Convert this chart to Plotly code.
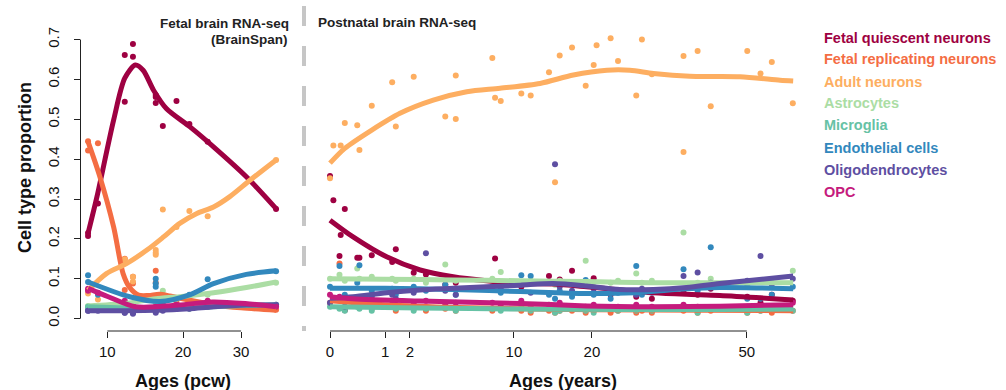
import numpy as np
import plotly.graph_objects as go

CELL_TYPES = ["Fetal quiescent neurons", "Fetal replicating neurons", "Adult neurons",
              "Astrocytes", "Microglia", "Endothelial cells", "Oligodendrocytes", "OPC"]
COLORS = ["#9E0142", "#F46D43", "#FDAE61", "#ABDDA4", "#66C2A5", "#3288BD", "#5E4FA2", "#C51B7D"]

# ---------------- Fetal (BrainSpan) samples, ages in pcw ----------------
FETAL_SAMPLE_PCW = [8, 8, 9, 12, 12, 13, 13, 16, 16, 16, 17, 19, 21, 24, 37]
FQN_FETAL = [0.207, 0.215, 0.289, 0.661, 0.544, 0.689, 0.657, 0.556, 0.541, 0.561, 0.483, 0.546, 0.488, 0.444, 0.275]
FRN_FETAL = [0.445, 0.422, 0.44, 0.15, 0.072, 0.105, 0.088, 0.12, 0.09, 0.045, 0.06, 0.04, 0.035, 0.03, 0.022]
ADULT_FETAL = [0.063, 0.07, 0.048, 0.149, 0.139, 0.105, 0.093, 0.172, 0.165, 0.16, 0.274, 0.23, 0.27, 0.257, 0.398]
ASTRO_FETAL = [0.03, 0.032, 0.03, 0.03, 0.035, 0.035, 0.03, 0.045, 0.05, 0.04, 0.07, 0.05, 0.045, 0.06, 0.09]
MICRO_FETAL = [0.03, 0.028, 0.025, 0.025, 0.022, 0.02, 0.022, 0.025, 0.022, 0.028, 0.03, 0.025, 0.025, 0.03, 0.035]
ENDO_FETAL = [0.109, 0.092, 0.06, 0.02, 0.03, 0.015, 0.02, 0.10, 0.088, 0.08, 0.04, 0.03, 0.06, 0.099, 0.119]
OLIGO_FETAL = [0.02, 0.02, 0.02, 0.015, 0.015, 0.012, 0.015, 0.015, 0.018, 0.02, 0.02, 0.025, 0.025, 0.03, 0.035]
OPC_FETAL = [0.075, 0.07, 0.065, 0.04, 0.045, 0.03, 0.035, 0.025, 0.03, 0.028, 0.03, 0.035, 0.035, 0.045, 0.03]

# fetal smooth fits
FQN_FETAL_FIT_PCW = [8, 8.9, 10.7, 12.0, 13.3, 14.3, 15.7, 17.5, 21.1, 25, 31, 37]
FQN_FETAL_FIT = [0.214, 0.306, 0.498, 0.603, 0.636, 0.623, 0.573, 0.527, 0.481, 0.431, 0.356, 0.276]
FRN_FETAL_FIT_PCW = [8, 9.2, 10.7, 11.8, 12.6, 13.7, 15, 16.5, 18, 21.1, 25, 30, 37]
FRN_FETAL_FIT = [0.444, 0.356, 0.23, 0.113, 0.078, 0.059, 0.058, 0.061, 0.057, 0.046, 0.035, 0.027, 0.021]
ADULT_FETAL_FIT_PCW = [8, 9.9, 12.2, 14.8, 17.1, 19.5, 22.2, 25, 27.9, 31.7, 37]
ADULT_FETAL_FIT = [0.071, 0.113, 0.138, 0.172, 0.205, 0.239, 0.264, 0.28, 0.306, 0.347, 0.398]
ASTRO_FETAL_FIT_PCW = [8, 12, 16, 19.5, 25, 31, 37]
ASTRO_FETAL_FIT = [0.032, 0.038, 0.05, 0.055, 0.065, 0.078, 0.092]
MICRO_FETAL_FIT_PCW = [8, 12, 16, 21, 25, 31, 37]
MICRO_FETAL_FIT = [0.03, 0.027, 0.025, 0.027, 0.03, 0.033, 0.035]
ENDO_FETAL_FIT_PCW = [8, 12.6, 16.6, 20.9, 25, 31, 37]
ENDO_FETAL_FIT = [0.092, 0.055, 0.043, 0.059, 0.088, 0.111, 0.12]
OLIGO_FETAL_FIT_PCW = [8, 12, 16, 21, 25, 31, 37]
OLIGO_FETAL_FIT = [0.02, 0.02, 0.021, 0.025, 0.03, 0.034, 0.035]
OPC_FETAL_FIT_PCW = [8, 10.1, 13.3, 19.3, 24.8, 30.8, 37]
OPC_FETAL_FIT = [0.076, 0.055, 0.03, 0.034, 0.042, 0.038, 0.03]

# ---------------- Postnatal samples, ages in years ----------------
ADULT_POST_AGE = [0.0, 0.012, 0.06, 0.10, 0.28, 0.32, 0.60, 1.25, 1.39, 2.19, 4.04, 4.78, 4.78, 7.84, 8.1,
                  8.65, 10.8, 11.86, 14.07, 14.84, 15.45, 17.12, 19.07, 20.26, 20.7, 22.9, 24.1, 27.2,
                  28.2, 30.0, 36.1, 36.1, 39.0, 41.8, 50.1, 53.3, 56.1, 61.5]
ADULT_POST = [0.352, 0.434, 0.434, 0.491, 0.485, 0.423, 0.534, 0.593, 0.482, 0.607, 0.507, 0.501, 0.61,
              0.654, 0.554, 0.546, 0.565, 0.56, 0.618, 0.342, 0.66, 0.68, 0.584, 0.636, 0.686, 0.703,
              0.646, 0.56, 0.70, 0.613, 0.418, 0.659, 0.671, 0.533, 0.671, 0.615, 0.644, 0.54]
FQN_POST_AGE = [0.0, 0.012, 0.05, 0.06, 0.10, 0.10, 0.28, 0.32, 0.6, 1.25, 1.39, 2.19, 2.84, 4.04, 4.78,
                8.1, 8.65, 10.8, 14.07, 15.45, 17.12, 20.26, 22.9, 27.2, 30.0, 36.1, 39.0, 41.8, 50.1,
                53.3, 56.1, 61.5]
FQN_POST = [0.358, 0.297, 0.157, 0.21, 0.275, 0.021, 0.153, 0.153, 0.159, 0.142, 0.174, 0.115, 0.111,
            0.085, 0.09, 0.151, 0.07, 0.08, 0.107, 0.098, 0.12, 0.101, 0.06, 0.055, 0.05, 0.07, 0.06,
            0.075, 0.055, 0.04, 0.06, 0.045]
POST_SAMPLE_AGE = [0.0, 0.05, 0.1, 0.28, 0.32, 0.6, 1.25, 1.39, 2.19, 2.84, 4.04, 4.78, 7.84, 8.65, 10.8,
                   11.86, 14.07, 14.84, 15.45, 17.12, 19.07, 20.26, 22.9, 24.1, 27.2, 28.2, 30.0, 36.1,
                   39.0, 41.8, 50.1, 53.3, 56.1, 61.5]
FRN_POST = [0.04, 0.138, 0.03, 0.035, 0.03, 0.025, 0.03, 0.02, 0.025, 0.02, 0.025, 0.02, 0.02, 0.025,
            0.02, 0.015, 0.02, 0.015, 0.02, 0.02, 0.015, 0.02, 0.015, 0.02, 0.015, 0.02, 0.015, 0.02,
            0.015, 0.02, 0.015, 0.02, 0.015, 0.02]
ASTRO_POST = [0.1, 0.11, 0.095, 0.126, 0.1, 0.105, 0.1, 0.095, 0.1, 0.09, 0.136, 0.095, 0.1, 0.117, 0.09,
              0.095, 0.09, 0.085, 0.095, 0.09, 0.145, 0.08, 0.09, 0.095, 0.113, 0.09, 0.095, 0.216,
              0.09, 0.1, 0.085, 0.095, 0.09, 0.12]
MICRO_POST = [0.03, 0.025, 0.02, 0.03, 0.025, 0.02, 0.03, 0.025, 0.02, 0.025, 0.03, 0.02, 0.025, 0.02,
              0.03, 0.02, 0.025, 0.015, 0.02, 0.025, 0.02, 0.015, 0.025, 0.02, 0.02, 0.025, 0.02, 0.03,
              0.015, 0.025, 0.015, 0.02, 0.025, 0.02]
ENDO_POST = [0.08, 0.132, 0.06, 0.09, 0.134, 0.07, 0.075, 0.06, 0.08, 0.07, 0.085, 0.06, 0.08, 0.065,
             0.109, 0.107, 0.06, 0.05, 0.07, 0.055, 0.097, 0.06, 0.05, 0.065, 0.132, 0.06, 0.07, 0.124,
             0.07, 0.179, 0.05, 0.05, 0.06, 0.08]
OLIGO_POST = [0.04, 0.05, 0.03, 0.045, 0.04, 0.055, 0.06, 0.05, 0.065, 0.164, 0.07, 0.06, 0.08, 0.075,
              0.085, 0.065, 0.09, 0.387, 0.08, 0.07, 0.085, 0.075, 0.065, 0.07, 0.06, 0.075, 0.065,
              0.107, 0.116, 0.09, 0.095, 0.157, 0.08, 0.1]
OPC_POST = [0.06, 0.055, 0.05, 0.05, 0.045, 0.04, 0.045, 0.035, 0.04, 0.045, 0.035, 0.04, 0.04, 0.035,
            0.045, 0.03, 0.035, 0.03, 0.04, 0.025, 0.03, 0.035, 0.025, 0.03, 0.035, 0.025, 0.03, 0.035,
            0.03, 0.025, 0.03, 0.025, 0.03, 0.04]

# postnatal smooth fits
FQN_POST_FIT_AGE = [0, 0.21, 1.05, 2.52, 4.6, 7.3, 10.7, 14.6, 19.2, 24.4, 30.3, 36.7, 43.8, 61.6]
FQN_POST_FIT = [0.247, 0.205, 0.155, 0.122, 0.105, 0.095, 0.088, 0.087, 0.08, 0.072, 0.065, 0.061, 0.058, 0.047]
FRN_POST_FIT_AGE = [0, 1, 5, 20, 61.6]
FRN_POST_FIT = [0.045, 0.035, 0.028, 0.022, 0.02]
ADULT_POST_FIT_AGE = [0, 0.1, 0.6, 1.56, 3.27, 5.62, 8.58, 12.96, 17.3, 22.3, 26.1, 30.3, 37.4, 48.4, 58.2, 61.6]
ADULT_POST_FIT = [0.39, 0.427, 0.473, 0.515, 0.548, 0.569, 0.578, 0.59, 0.611, 0.623, 0.623, 0.615, 0.608, 0.607, 0.598, 0.596]
ASTRO_POST_FIT_AGE = [0, 1, 4.6, 10.7, 19.2, 30, 43.8, 61.6]
ASTRO_POST_FIT = [0.1, 0.099, 0.097, 0.095, 0.093, 0.09, 0.09, 0.09]
MICRO_POST_FIT_AGE = [0, 2.5, 10.7, 24.4, 43.8, 61.6]
MICRO_POST_FIT = [0.03, 0.027, 0.024, 0.023, 0.023, 0.024]
ENDO_POST_FIT_AGE = [0, 1, 2.5, 4.6, 10.7, 19.2, 27, 36.7, 43.8, 53, 61.6]
ENDO_POST_FIT = [0.076, 0.076, 0.075, 0.073, 0.068, 0.063, 0.065, 0.075, 0.078, 0.077, 0.075]
OLIGO_POST_FIT_AGE = [0, 0.21, 1.05, 2.52, 4.6, 7.3, 10.7, 14.6, 19.2, 24.4, 30.3, 36.7, 43.8, 61.6]
OLIGO_POST_FIT = [0.051, 0.055, 0.065, 0.072, 0.076, 0.08, 0.084, 0.088, 0.082, 0.073, 0.073, 0.078, 0.088, 0.107]
OPC_POST_FIT_AGE = [0, 0.2, 2.5, 10.7, 19.2, 30.3, 43.8, 61.6]
OPC_POST_FIT = [0.055, 0.05, 0.044, 0.038, 0.032, 0.03, 0.031, 0.035]

Y_TICKS = [0.0, 0.1, 0.2, 0.3, 0.4, 0.5, 0.6, 0.7]
FETAL_TICKS = [10, 20, 30]
POST_TICKS = [0, 1, 2, 10, 20, 50]

FETAL_POINTS = [FQN_FETAL, FRN_FETAL, ADULT_FETAL, ASTRO_FETAL, MICRO_FETAL, ENDO_FETAL, OLIGO_FETAL, OPC_FETAL]
FETAL_FITS = [(FQN_FETAL_FIT_PCW, FQN_FETAL_FIT), (FRN_FETAL_FIT_PCW, FRN_FETAL_FIT),
              (ADULT_FETAL_FIT_PCW, ADULT_FETAL_FIT), (ASTRO_FETAL_FIT_PCW, ASTRO_FETAL_FIT),
              (MICRO_FETAL_FIT_PCW, MICRO_FETAL_FIT), (ENDO_FETAL_FIT_PCW, ENDO_FETAL_FIT),
              (OLIGO_FETAL_FIT_PCW, OLIGO_FETAL_FIT), (OPC_FETAL_FIT_PCW, OPC_FETAL_FIT)]
POST_POINTS = [(FQN_POST_AGE, FQN_POST), (POST_SAMPLE_AGE, FRN_POST), (ADULT_POST_AGE, ADULT_POST),
               (POST_SAMPLE_AGE, ASTRO_POST), (POST_SAMPLE_AGE, MICRO_POST), (POST_SAMPLE_AGE, ENDO_POST),
               (POST_SAMPLE_AGE, OLIGO_POST), (POST_SAMPLE_AGE, OPC_POST)]
POST_FITS = [(FQN_POST_FIT_AGE, FQN_POST_FIT), (FRN_POST_FIT_AGE, FRN_POST_FIT),
             (ADULT_POST_FIT_AGE, ADULT_POST_FIT), (ASTRO_POST_FIT_AGE, ASTRO_POST_FIT),
             (MICRO_POST_FIT_AGE, MICRO_POST_FIT), (ENDO_POST_FIT_AGE, ENDO_POST_FIT),
             (OLIGO_POST_FIT_AGE, OLIGO_POST_FIT), (OPC_POST_FIT_AGE, OPC_POST_FIT)]


# square-root age scales used by both panels
def fetal_scale(p):
    return np.sqrt(np.asarray(p, dtype=float))


def post_scale(a):
    return np.sqrt(np.asarray(a, dtype=float) + 0.006)


FONT = "Liberation Sans, Arial, Helvetica, sans-serif"
W, H = 1006, 390
ML, MR, MT, MB = 80, 6, 28, 59
PW, PH = W - ML - MR, H - MT - MB


def px_x(px):
    return (px - ML) / PW


def px_y(py):
    return (H - MB - py) / PH


fig = go.Figure()

# points first
for i, name in enumerate(CELL_TYPES):
    fig.add_trace(go.Scatter(x=fetal_scale(FETAL_SAMPLE_PCW), y=FETAL_POINTS[i], mode="markers",
                             marker=dict(color=COLORS[i], size=6), xaxis="x", yaxis="y",
                             showlegend=False, name=name))
    ages, vals = POST_POINTS[i]
    fig.add_trace(go.Scatter(x=post_scale(ages), y=vals, mode="markers",
                             marker=dict(color=COLORS[i], size=6), xaxis="x2", yaxis="y",
                             showlegend=False, name=name))
# then smooth fits
for i, name in enumerate(CELL_TYPES):
    fx, fy = FETAL_FITS[i]
    fig.add_trace(go.Scatter(x=fetal_scale(fx), y=fy, mode="lines",
                             line=dict(color=COLORS[i], width=5, shape="spline", smoothing=0.8),
                             xaxis="x", yaxis="y", showlegend=False, name=name))
    px_, py_ = POST_FITS[i]
    fig.add_trace(go.Scatter(x=post_scale(px_), y=py_, mode="lines",
                             line=dict(color=COLORS[i], width=5, shape="spline", smoothing=0.8),
                             xaxis="x2", yaxis="y", showlegend=False, name=name))

axis_common = dict(showgrid=False, zeroline=False, showline=False, ticks="outside", ticklen=6,
                   tickwidth=1, tickcolor="#222", tickfont=dict(family=FONT, size=15, color="#111"),
                   automargin=False)

fig.update_layout(
    width=W, height=H,
    margin=dict(l=ML, r=MR, t=MT, b=MB),
    paper_bgcolor="white", plot_bgcolor="white",
    xaxis=dict(domain=[px_x(80.5), px_x(283.6)], range=[2.698, 6.213], anchor="y",
               tickvals=fetal_scale(FETAL_TICKS), ticktext=[str(t) for t in FETAL_TICKS],
               ticklabelstandoff=1, **axis_common),
    xaxis2=dict(domain=[px_x(311.5), px_x(811)], range=[-0.233, 8.148], anchor="y",
                tickvals=post_scale(POST_TICKS), ticktext=[str(t) for t in POST_TICKS],
                ticklabelstandoff=1, **axis_common),
    yaxis=dict(range=[-0.031, 0.729], anchor="x", tickvals=Y_TICKS,
               ticktext=[f"{v:.1f}" for v in Y_TICKS], tickangle=-90, ticklabelstandoff=9,
               **axis_common),
)

shapes = [
    # y axis line from 0 to 0.7
    dict(type="line", xref="x domain", yref="y", x0=0, x1=0, y0=Y_TICKS[0], y1=Y_TICKS[-1],
         line=dict(color="#222", width=1)),
    # fetal x axis line
    dict(type="line", xref="x", yref="paper", x0=float(fetal_scale(FETAL_TICKS[0])),
         x1=float(fetal_scale(FETAL_TICKS[-1])), y0=0, y1=0, line=dict(color="#222", width=1)),
    # postnatal x axis line
    dict(type="line", xref="x2", yref="paper", x0=float(post_scale(POST_TICKS[0])),
         x1=float(post_scale(POST_TICKS[-1])), y0=0, y1=0, line=dict(color="#222", width=1)),
    # dashed divider
    dict(type="line", xref="paper", yref="paper", x0=px_x(304), x1=px_x(304), y0=px_y(6), y1=px_y(331),
         line=dict(color="#c6c6c6", width=4, dash="20px,20px")),
]
fig.update_layout(shapes=shapes)

ann = []
ann.append(dict(text="<b>Cell type proportion</b>", xref="paper", yref="paper", x=px_x(25), y=px_y(168),
                textangle=-90, showarrow=False, font=dict(family=FONT, size=18, color="#111"),
                xanchor="center", yanchor="middle"))
ann.append(dict(text="<b>Ages (pcw)</b>", xref="paper", yref="paper", x=px_x(183), y=px_y(381),
                showarrow=False, font=dict(family=FONT, size=18, color="#111"),
                xanchor="center", yanchor="middle"))
ann.append(dict(text="<b>Ages (years)</b>", xref="paper", yref="paper", x=px_x(563), y=px_y(381),
                showarrow=False, font=dict(family=FONT, size=18, color="#111"),
                xanchor="center", yanchor="middle"))
ann.append(dict(text="<b>Fetal brain RNA-seq</b>", xref="paper", yref="paper", x=px_x(291), y=px_y(23.5),
                showarrow=False, font=dict(family=FONT, size=13.5, color="#222"),
                xanchor="right", yanchor="middle"))
ann.append(dict(text="<b>(BrainSpan)</b>", xref="paper", yref="paper", x=px_x(290), y=px_y(39.5),
                showarrow=False, font=dict(family=FONT, size=13.5, color="#222"),
                xanchor="right", yanchor="middle"))
ann.append(dict(text="<b>Postnatal brain RNA-seq</b>", xref="paper", yref="paper", x=px_x(316), y=px_y(23),
                showarrow=False, font=dict(family=FONT, size=13.5, color="#222"),
                xanchor="left", yanchor="middle"))
for i, name in enumerate(CELL_TYPES):
    ann.append(dict(text=f"<b>{name}</b>", xref="paper", yref="paper", x=px_x(821.5),
                    y=px_y(37.5 + 22.0 * i), showarrow=False,
                    font=dict(family=FONT, size=14.5, color=COLORS[i]),
                    xanchor="left", yanchor="middle"))
fig.update_layout(annotations=ann)

fig.write_html("out.html", config={"displayModeBar": False},
               post_script="document.body.style.margin='0px';document.body.style.padding='0px';")
